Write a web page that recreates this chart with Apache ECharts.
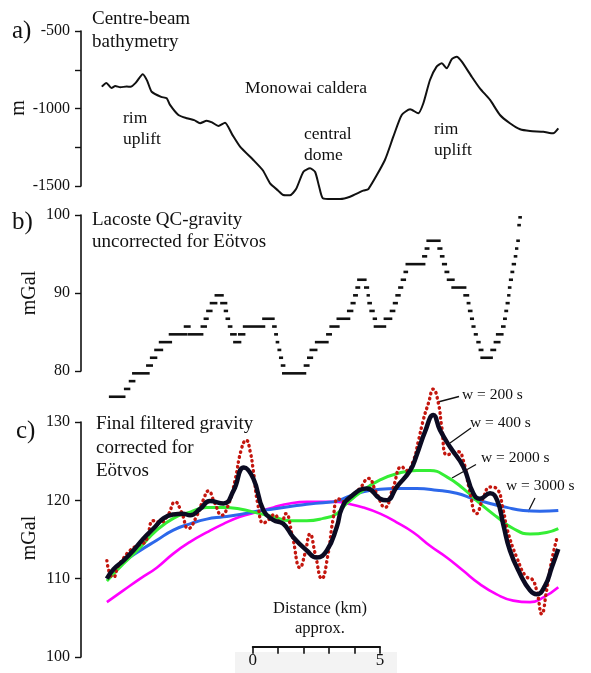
<!DOCTYPE html>
<html><head><meta charset="utf-8">
<script src="https://cdn.jsdelivr.net/npm/echarts@6/dist/echarts.min.js"></script>
<style>html,body{margin:0;padding:0;background:#fff}#c{width:591px;height:673px}</style>
</head><body><div id="c"></div>
<script>
// ---------- DATA (distance in km, 0 at scale-bar origin) ----------
// a) Centre-beam bathymetry [km, m]
const bathy = [[-5.93,-859],[-5.75,-835],[-5.55,-868],[-5.4,-855],[-5.2,-863],[-4.95,-858],[-4.8,-860],[-4.6,-835],[-4.32,-779],[-4.15,-820],[-3.97,-892],[-3.6,-925],[-3.38,-934],[-3.25,-977],[-2.92,-1042],[-2.59,-1063],[-2.3,-1075],[-2.07,-1095],[-1.81,-1079],[-1.6,-1090],[-1.35,-1113],[-1.09,-1092],[-0.8,-1170],[-0.5,-1246],[0.02,-1332],[0.4,-1400],[0.68,-1483],[1.0,-1530],[1.2,-1558],[1.46,-1560],[1.7,-1520],[1.99,-1408],[2.25,-1386],[2.45,-1410],[2.6,-1500],[2.75,-1579],[3.1,-1584],[3.43,-1584],[3.82,-1569],[4.34,-1530],[4.54,-1520],[5.19,-1332],[5.52,-1182],[5.85,-1042],[6.18,-1005],[6.5,-1031],[6.7,-966],[6.96,-816],[7.22,-730],[7.42,-708],[7.62,-741],[7.81,-683],[8.01,-666],[8.21,-698],[8.6,-795],[8.92,-870],[9.32,-945],[9.71,-1042],[10.1,-1095],[10.5,-1134],[10.89,-1145],[11.41,-1150],[11.8,-1160],[12.0,-1128]];

// b) Lacoste QC-gravity, stepped readings: start km, end km, mGal
const runStart = [-5.60,-5.01,-4.82,-4.69,-4.14,-3.99,-3.82,-3.64,-3.25,-2.66,-2.51,-2.00,-1.88,-1.78,-1.64,-1.45,-1.23,-1.09,-1.02,-0.93,-0.84,-0.72,-0.53,-0.34,0.42,0.81,0.89,0.95,1.02,1.08,1.15,1.20,2.05,2.18,2.28,2.49,2.93,3.06,3.34,3.75,3.89,3.99,4.08,4.15,4.42,4.52,4.55,4.63,4.76,4.80,5.19,5.43,5.55,5.65,5.76,5.86,5.97,6.05,6.70,6.80,6.87,7.30,7.40,7.48,7.58,7.67,7.85,8.32,8.45,8.50,8.58,8.64,8.73,8.83,8.92,8.99,9.38,9.51,9.60,9.80,9.88,9.93,9.98,10.04,10.07,10.11,10.17,10.22,10.30,10.35,10.40,10.44,10.48];
const runEnd = [-5.05,-4.86,-4.66,-4.10,-3.97,-3.80,-3.57,-3.22,-2.62,-2.49,-1.99,-1.85,-1.78,-1.63,-1.44,-1.19,-1.05,-1.02,-0.94,-0.85,-0.68,-0.50,-0.34,0.44,0.81,0.89,0.94,0.99,1.07,1.14,1.23,2.05,2.18,2.32,2.49,2.93,3.06,3.36,3.78,3.90,3.99,4.08,4.17,4.42,4.52,4.55,4.63,4.74,4.83,5.19,5.43,5.55,5.65,5.76,5.86,5.97,6.05,6.73,6.80,6.89,7.33,7.40,7.48,7.58,7.67,7.88,8.34,8.45,8.50,8.58,8.64,8.70,8.79,8.90,9.01,9.38,9.51,9.68,9.80,9.88,9.93,9.98,10.04,10.07,10.11,10.17,10.22,10.29,10.34,10.38,10.44,10.48,10.52];
const runLevel = [76.7,77.7,78.7,79.7,80.7,81.7,82.7,83.7,84.7,85.7,84.7,85.7,86.7,87.7,88.7,89.7,88.7,87.7,86.7,85.7,84.7,83.7,84.7,85.7,86.7,85.7,84.7,83.7,82.7,81.7,80.7,79.7,80.7,81.7,82.7,83.7,84.7,85.7,86.7,87.7,88.7,89.7,90.7,91.7,90.7,89.7,88.7,87.7,86.7,85.7,86.7,87.7,88.7,89.7,90.7,91.7,92.7,93.7,94.7,95.7,96.7,95.7,94.7,93.7,92.7,91.7,90.7,89.7,88.7,87.7,86.7,85.7,84.7,83.7,82.7,81.7,82.7,83.7,84.7,85.7,86.7,87.7,88.7,89.7,90.7,91.7,92.7,93.7,94.7,95.7,96.7,98.7,99.7];

// c) Final filtered gravity [km, mGal]
const w200 = [[-5.73,112.3],[-5.6,110.5],[-5.47,110.2],[-5.3,111.5],[-5.08,112.6],[-4.82,113.6],[-4.55,114.2],[-4.3,114.5],[-4.16,115.1],[-3.9,117.4],[-3.64,117.2],[-3.35,118.0],[-3.05,119.8],[-2.8,118.5],[-2.53,116.4],[-2.2,118.0],[-1.95,120.0],[-1.74,121.2],[-1.5,119.7],[-1.22,118.1],[-0.95,119.5],[-0.7,122.5],[-0.45,126.5],[-0.26,127.7],[-0.1,126.2],[0.02,123.8],[0.2,119.5],[0.42,117.1],[0.65,117.6],[0.85,118.2],[1.1,117.0],[1.3,118.3],[1.55,115.5],[1.86,111.4],[2.05,113.2],[2.25,115.7],[2.45,113.2],[2.71,110.0],[2.95,113.0],[3.15,117.5],[3.36,120.2],[3.6,119.8],[3.85,120.5],[4.2,121.5],[4.54,122.8],[4.85,121.0],[5.19,119.1],[5.5,121.5],[5.85,124.3],[6.05,123.8],[6.31,125.1],[6.5,127.5],[6.7,130.3],[6.9,132.4],[7.09,134.2],[7.29,132.4],[7.42,129.4],[7.62,125.8],[7.85,126.0],[8.07,126.2],[8.27,125.1],[8.5,121.5],[8.79,118.3],[9.05,120.3],[9.32,121.7],[9.58,121.5],[9.84,118.7],[10.0,116.2],[10.37,112.7],[10.76,110.2],[10.95,110.0],[11.15,108.5],[11.35,105.5],[11.54,108.5],[11.74,112.3],[11.94,115.1]];
const w400 = [[-5.73,110.0],[-5.47,111.2],[-5.08,112.3],[-4.69,113.6],[-4.30,115.1],[-3.90,116.4],[-3.51,117.7],[-3.12,118.2],[-2.75,118.3],[-2.46,118.1],[-2.07,118.9],[-1.68,119.9],[-1.15,119.6],[-0.76,121.2],[-0.35,124.2],[0.02,122.8],[0.42,118.7],[0.8,117.5],[1.2,117.0],[1.59,115.3],[2.12,113.6],[2.51,112.7],[2.91,113.6],[3.30,116.6],[3.50,119.0],[3.82,120.4],[4.48,121.5],[5.0,120.2],[5.26,120.0],[5.65,121.7],[6.18,123.8],[6.44,125.8],[6.77,128.8],[7.09,130.9],[7.35,129.0],[7.75,126.8],[8.27,124.3],[8.66,120.9],[8.92,120.2],[9.32,120.9],[9.60,120.0],[9.84,116.9],[10.10,113.6],[10.50,110.6],[10.89,108.5],[11.15,108.0],[11.48,109.1],[11.74,111.4],[12.0,113.8]];
const w2000 = [[-5.73,109.7],[-5.08,111.9],[-4.42,114.0],[-3.77,116.2],[-3.12,117.7],[-2.46,118.5],[-1.81,119.1],[-1.15,119.1],[-0.50,118.9],[0.16,118.4],[0.81,117.9],[1.46,117.4],[2.12,117.4],[2.77,117.7],[3.30,118.3],[3.69,119.6],[4.34,121.3],[5.0,122.6],[5.65,123.4],[6.44,123.8],[6.96,123.8],[7.62,123.0],[8.27,121.5],[8.92,119.6],[9.58,117.9],[10.23,116.4],[10.89,115.7],[11.54,115.9],[12.0,116.4]];
const w3000 = [[-5.73,110.0],[-5.08,112.1],[-4.42,113.6],[-3.77,114.9],[-3.12,116.2],[-2.46,117.0],[-1.81,117.6],[-1.15,117.9],[-0.50,118.2],[0.16,118.6],[0.81,118.9],[1.46,119.2],[2.12,119.5],[2.77,119.7],[3.30,119.9],[3.69,120.4],[4.34,121.1],[5.0,121.4],[5.65,121.5],[6.44,121.5],[7.22,121.3],[8.01,120.9],[8.66,120.2],[9.32,119.6],[9.97,119.1],[10.62,118.7],[11.28,118.6],[12.0,118.7]];
const wLong = [[-5.73,107.0],[-5.08,108.5],[-4.42,110.0],[-3.77,111.4],[-3.12,113.2],[-2.46,114.7],[-1.81,115.9],[-1.15,117.0],[-0.50,117.9],[0.16,118.5],[0.81,119.1],[1.46,119.6],[2.12,119.8],[2.77,119.8],[3.36,119.8],[3.69,119.6],[4.34,119.1],[5.0,118.3],[5.65,117.2],[6.31,115.9],[6.96,114.2],[7.62,112.7],[8.27,111.0],[8.92,109.3],[9.58,108.0],[10.23,107.2],[10.89,107.0],[11.41,107.6],[12.0,108.9]];

// axis ticks
const bathyTicks = [-500, -1000, -1500];
const scaleTicks = [0, 5];

// ---------- CHART ----------
const FONT = 'Liberation Serif';
const INK = '#111';
const chart = echarts.init(document.getElementById('c'), null, {renderer: 'canvas'});

const xHidden = (gi) => ({gridIndex: gi, type: 'value', min: -6, max: 12, show: false});
const yBase = (gi, min, max, interval, fmt) => ({
  gridIndex: gi, type: 'value', min, max, interval, offset: 19,
  axisLine: {show: true, onZero: false, lineStyle: {color: INK, width: 1.6}},
  axisTick: {show: true, length: 6, lineStyle: {color: INK, width: 1.4}},
  axisLabel: {show: true, margin: 11, color: INK, fontFamily: FONT, fontSize: 16, formatter: fmt},
  splitLine: {show: false}
});

const runs = runStart.map((s, i) => [s, runEnd[i], runLevel[i]]);

function txt(x, y, s, size, extra) {
  return Object.assign({type: 'text', x, y, style: {text: s, fill: INK, font: size + 'px "' + FONT + '"', align: 'left', verticalAlign: 'middle'}}, extra || {});
}
function rtxt(x, y, s, size) {
  return {type: 'text', x, y, rotation: Math.PI / 2, style: {text: s, fill: INK, font: size + 'px "' + FONT + '"', align: 'center', verticalAlign: 'middle'}};
}
function lead(x1, y1, x2, y2) {
  return {type: 'line', shape: {x1, y1, x2, y2}, style: {stroke: INK, lineWidth: 1.3}};
}

const option = {
  backgroundColor: '#fff',
  animation: false,
  grid: [
    {left: 100, width: 458.3, top: 31, height: 155},
    {left: 100, width: 458.3, top: 215, height: 156},
    {left: 100, width: 458.3, top: 422, height: 235},
    {left: 252.7, width: 127.35, top: 600, height: 46.7}
  ],
  xAxis: [xHidden(0), xHidden(1), xHidden(2), {
    gridIndex: 3, type: 'value', min: 0, max: 5, interval: 1,
    axisLine: {show: true, lineStyle: {color: INK, width: 1.8}},
    axisTick: {show: true, length: 7, lineStyle: {color: INK, width: 1.6}},
    axisLabel: {show: true, margin: 5, color: INK, fontFamily: FONT, fontSize: 17,
      formatter: v => scaleTicks.indexOf(v) >= 0 ? String(v) : ''},
    splitLine: {show: false}
  }],
  yAxis: [
    yBase(0, -1500, -500, 250, v => bathyTicks.indexOf(v) >= 0 ? String(v) : ''),
    yBase(1, 80, 100, 10),
    yBase(2, 100, 130, 10),
    {gridIndex: 3, type: 'value', show: false}
  ],
  series: [
    {type: 'line', xAxisIndex: 0, yAxisIndex: 0, data: bathy, showSymbol: false, smooth: 0.2, clip: false,
     lineStyle: {color: INK, width: 2}},
    {type: 'custom', xAxisIndex: 1, yAxisIndex: 1, data: runs, clip: false,
     renderItem: (params, api) => {
       const a = api.coord([api.value(0), api.value(2)]);
       const b = api.coord([api.value(1), api.value(2)]);
       return {type: 'line', shape: {x1: a[0], y1: a[1], x2: b[0], y2: b[1]},
               style: {stroke: INK, lineWidth: 2.6, lineCap: 'square'}};
     }},
    {type: 'line', xAxisIndex: 2, yAxisIndex: 2, data: wLong, showSymbol: false, smooth: true,
     lineStyle: {color: '#ff00ff', width: 2.6}},
    {type: 'line', xAxisIndex: 2, yAxisIndex: 2, data: w3000, showSymbol: false, smooth: true,
     lineStyle: {color: '#2d68ea', width: 3}},
    {type: 'line', xAxisIndex: 2, yAxisIndex: 2, data: w2000, showSymbol: false, smooth: true,
     lineStyle: {color: '#35ee35', width: 3}},
    {type: 'line', xAxisIndex: 2, yAxisIndex: 2, data: w200, showSymbol: false, smooth: true, clip: false,
     lineStyle: {color: '#c4160e', width: 3.4, type: [0.5, 4.6], cap: 'round'}},
    {type: 'line', xAxisIndex: 2, yAxisIndex: 2, data: w400, showSymbol: false, smooth: true, clip: false,
     lineStyle: {color: '#0b0b22', width: 4.5}}
  ],
  graphic: [
    {type: 'rect', shape: {x: 235, y: 652, width: 162, height: 21}, style: {fill: '#f3f3f3'}, z: -10},
    txt(12, 31, 'a)', 25), txt(12, 222, 'b)', 25), txt(16, 431, 'c)', 25),
    rtxt(19, 108, 'm', 20), rtxt(30, 293, 'mGal', 20), rtxt(30, 538, 'mGal', 20),
    txt(92, 19, 'Centre-beam', 19), txt(92, 42, 'bathymetry', 19),
    txt(245, 88, 'Monowai caldera', 17.5),
    txt(123, 118, 'rim', 17.5), txt(123, 139, 'uplift', 17.5),
    txt(304, 134, 'central', 17.5), txt(304, 155, 'dome', 17.5),
    txt(434, 129, 'rim', 17.5), txt(434, 150, 'uplift', 17.5),
    txt(92, 220, 'Lacoste QC-gravity', 19), txt(92, 242, 'uncorrected for Eötvos', 19),
    txt(96, 424, 'Final filtered gravity', 19), txt(96, 448, 'corrected for', 19), txt(96, 471, 'Eötvos', 19),
    txt(462, 395, 'w = 200 s', 15.5), lead(438, 402, 459, 396.5),
    txt(470, 423, 'w = 400 s', 15.5), lead(450, 443, 471, 428),
    txt(481, 458, 'w = 2000 s', 15.5), lead(452, 478, 476, 464.5),
    txt(506, 486, 'w = 3000 s', 15.5), lead(528, 512, 535, 498),
    {type: 'text', x: 320, y: 609, style: {text: 'Distance (km)', fill: INK, font: '16.5px "' + FONT + '"', align: 'center', verticalAlign: 'middle'}},
    {type: 'text', x: 320, y: 629, style: {text: 'approx.', fill: INK, font: '16.5px "' + FONT + '"', align: 'center', verticalAlign: 'middle'}}
  ]
};
chart.setOption(option);
</script>
</body></html>
